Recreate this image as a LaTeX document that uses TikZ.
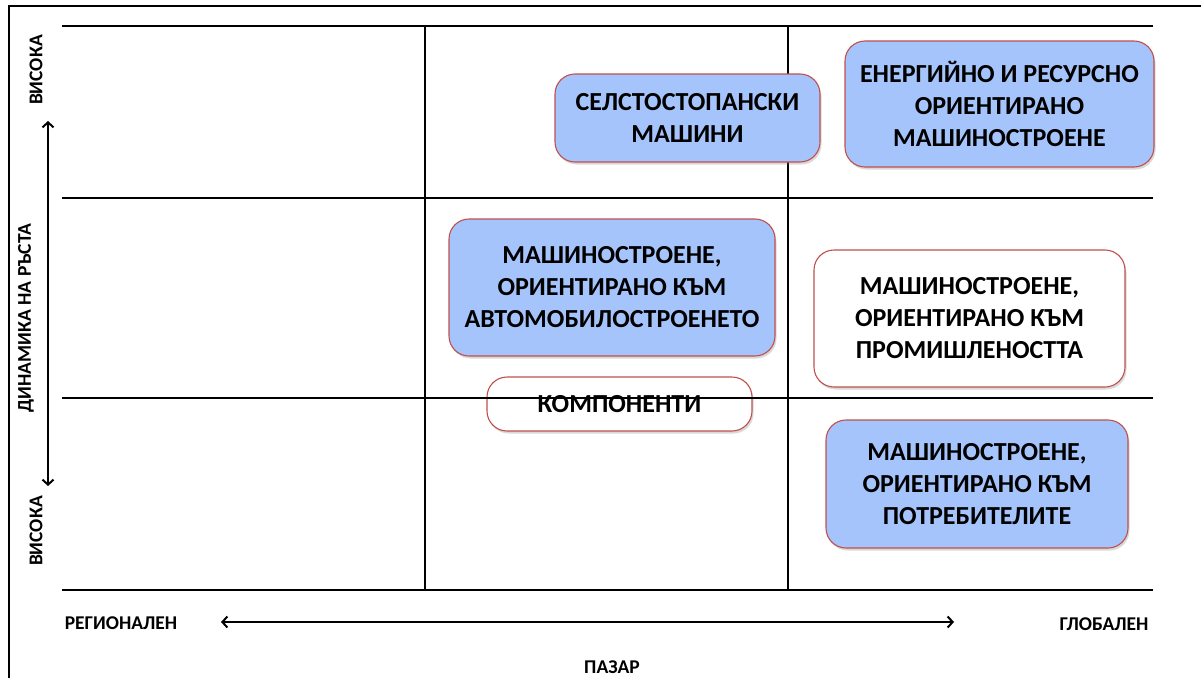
\documentclass[tikz,border=0pt]{standalone}
\usepackage{fontspec}
\setmainfont{Carlito}
\usetikzlibrary{shadows,arrows.meta}
\definecolor{boxblue}{RGB}{166,196,252}
\definecolor{boxred}{RGB}{192,80,77}
\tikzset{
  sector/.style={draw=boxred, line width=1.1pt, rounded corners=20pt, align=center, inner sep=0pt,
    font=\bfseries\fontsize{26}{32}\selectfont,
    drop shadow={opacity=.3, shadow xshift=1.5pt, shadow yshift=-2.5pt}},
  blue/.style={fill=boxblue},
  axislabel/.style={font=\bfseries\fontsize{19.5}{22}\selectfont, inner sep=0pt},
  gridline/.style={line width=1.7pt},
}
\begin{document}
\begin{tikzpicture}[>={Straight Barb[length=5pt,width=11pt]}, x=1pt, y=-1pt]
\useasboundingbox (0,0) rectangle (1201,677);
\begin{scope}
\clip (0,0) rectangle (1201,677);
\draw[line width=2.2pt](9,700)--(9,6)--(1220,6);
\end{scope}

% columns
\draw[line width=1.3pt](425,26)--(425,590);
\draw[line width=1.3pt](788,26)--(788,590);

\node[sector, blue, minimum width=265pt, minimum height=88pt] (agri) at (687.5,118) {СЕЛСТОСТОПАНСКИ\\МАШИНИ};
\node[sector, blue, minimum width=309pt, minimum height=126pt] (energy) at (999.5,104) {ЕНЕРГИЙНО И РЕСУРСНО\\ОРИЕНТИРАНО\\МАШИНОСТРОЕНЕ};
\node[sector, blue, minimum width=326pt, minimum height=137pt] (auto) at (612,287.5) {МАШИНОСТРОЕНЕ,\\ОРИЕНТИРАНО КЪМ\\АВТОМОБИЛОСТРОЕНЕТО};
\node[sector, fill=white, minimum width=311pt, minimum height=137pt] (industry) at (969.5,318.5) {МАШИНОСТРОЕНЕ,\\ОРИЕНТИРАНО КЪМ\\ПРОМИШЛЕНОСТТА};
\node[sector, fill=white, minimum width=265pt, minimum height=54pt] (parts) at (619.5,404) {КОМПОНЕНТИ};
\node[sector, blue, minimum width=302pt, minimum height=128pt] (consumer) at (977,484) {МАШИНОСТРОЕНЕ,\\ОРИЕНТИРАНО КЪМ\\ПОТРЕБИТЕЛИТЕ};

% rows
\foreach \y in {26,198,398,590}
  \draw[gridline](62,\y)--(1153,\y);

% growth axis
\node[axislabel, rotate=90] (hightop) at (36,70) {ВИСОКА};
\node[axislabel, rotate=90] (growth) at (26,318) {ДИНАМИКА НА РЪСТА};
\node[axislabel, rotate=90] (highbot) at (36,531) {ВИСОКА};
\coordinate (vtop) at (48,121);
\coordinate (vbot) at (48,486);
\draw[<->, line width=2pt](vbot)--(vtop);

% market axis
\node[axislabel] (regional) at (121,623) {РЕГИОНАЛЕН};
\node[axislabel] (global) at (1104,624) {ГЛОБАЛЕН};
\node[axislabel] (market) at (612,667) {ПАЗАР};
\coordinate (hleft) at (221,622);
\coordinate (hright) at (954,622);
\draw[<->, line width=2pt](hleft)--(hright);

\end{tikzpicture}
\end{document}
